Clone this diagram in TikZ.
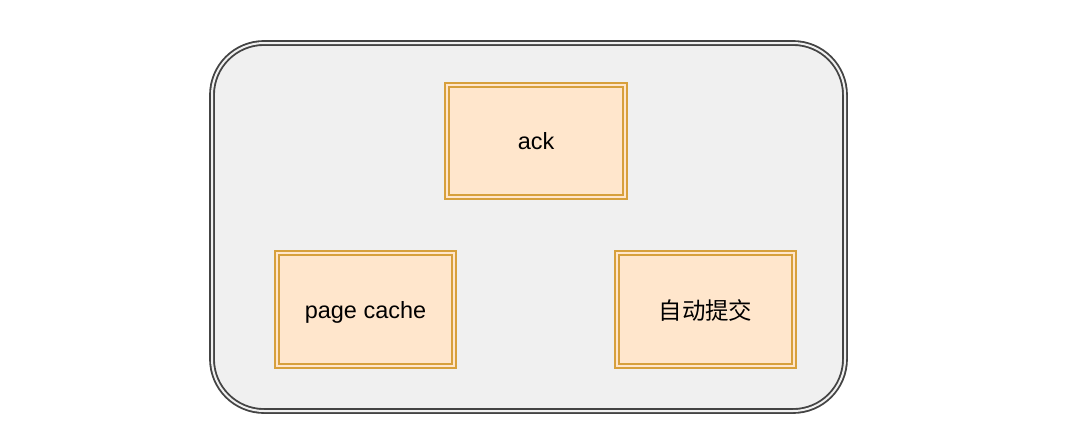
\documentclass[tikz,border=0pt]{standalone}
\usepackage{fontspec}
\setmainfont{Liberation Sans}
\newfontfamily\cjkfont{Noto Sans CJK SC}
\definecolor{panelfill}{RGB}{240,240,240}
\definecolor{paneldraw}{RGB}{68,68,68}
\definecolor{boxfill}{RGB}{255,230,204}
\definecolor{boxdraw}{RGB}{215,160,60}
\tikzset{every picture/.style={line width=0.75pt}}
\tikzset{
  panel/.style={draw=paneldraw, line width=1.4pt, double=panelfill, double distance=1.5pt, fill=panelfill, rounded corners=39pt},
  stepbox/.style={draw=boxdraw, line width=1.4pt, double=boxfill, double distance=1.5pt, fill=boxfill, minimum width=133pt, minimum height=84.5pt, inner sep=0pt, text depth=0pt, font=\fontsize{17.6}{20}\selectfont}
}

\begin{document}
\begin{tikzpicture}[x=0.75pt,y=0.75pt,yscale=-1,xscale=1]
	\useasboundingbox (0,0) rectangle (1080,437);

	%Rounded Rect [id:panel] 
	\draw [panel] (212,43) rectangle (845,411) ;

	% Text Node
	\node [stepbox] (ack) at (536,141) {ack};
	% Text Node
	\node [stepbox] (pagecache) at (365.5,309.5) {page cache};
	% Text Node
	\node [stepbox] (autocommit) at (705.5,309.5) {\cjkfont 自动提交};

\end{tikzpicture}
\end{document}
